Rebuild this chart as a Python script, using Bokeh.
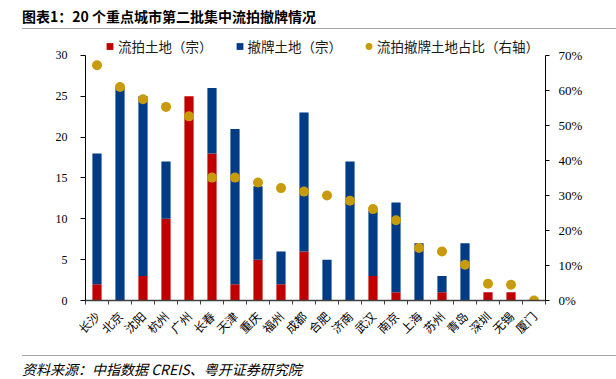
import math
from bokeh.plotting import figure
from bokeh.models import (ColumnDataSource, Range1d, LinearAxis, FixedTicker,
                          NumeralTickFormatter, Legend, LegendItem, Div)
from bokeh.layouts import column
from bokeh.embed import file_html
from bokeh.resources import INLINE

# ---- data ----
cities = ["长沙", "北京", "沈阳", "杭州", "广州", "长春", "天津", "重庆", "福州", "成都",
          "合肥", "济南", "武汉", "南京", "上海", "苏州", "青岛", "深圳", "无锡", "厦门"]
liupai = [2, 0, 3, 10, 25, 18, 2, 5, 2, 6, 0, 0, 3, 1, 0, 1, 0, 1, 1, 0]
chepai = [16, 26, 22, 7, 0, 8, 19, 9, 4, 17, 5, 17, 8, 11, 7, 2, 7, 0, 0, 0]
ratio = [0.672, 0.610, 0.575, 0.553, 0.526, 0.351, 0.351, 0.337, 0.321, 0.311,
         0.300, 0.285, 0.261, 0.229, 0.150, 0.140, 0.102, 0.048, 0.045, 0.0]
left_ticks = [0, 5, 10, 15, 20, 25, 30]
right_ticks = [0.0, 0.1, 0.2, 0.3, 0.4, 0.5, 0.6, 0.7]
legend_labels = ["流拍土地（宗）", "撤牌土地（宗）", "流拍撤牌土地占比（右轴）"]
title_text = "图表1：20 个重点城市第二批集中流拍撤牌情况"
source_text = "资料来源：中指数据 CREIS、粤开证券研究院"

RED = "#C00000"
BLUE = "#003C86"
GOLD = "#C89B0C"
CJK = "Noto Sans CJK SC"
SERIF = "Liberation Serif"

# frame is taller than the axes (room for the legend); axes are bounded
LEFT_MAX, RIGHT_MAX = 30, 0.7
HEAD = 266 / 246  # frame height / axis height

n = len(cities)
xs = [i + 0.5 for i in range(n)]
src = ColumnDataSource(dict(x=xs, liupai=liupai, chepai=chepai, ratio=ratio))

p = figure(width=616, height=315, x_range=Range1d(0, n),
           y_range=Range1d(0, LEFT_MAX * HEAD),
           output_backend="svg", toolbar_location=None,
           min_border_left=85, min_border_right=71, min_border_top=5, min_border_bottom=44)
p.extra_y_ranges = {"pct": Range1d(0, RIGHT_MAX * HEAD)}
p.outline_line_color = None
p.xgrid.grid_line_color = None
p.ygrid.grid_line_color = None

rs = p.vbar_stack(["liupai", "chepai"], x="x", width=0.4, fill_color=[RED, BLUE],
                  line_color=None, source=src)
dots = p.scatter("x", "ratio", source=src, y_range_name="pct", size=10,
                 marker="circle", fill_color=GOLD, line_color=None)

# legend swatches: zero-size square markers sharing the bar colours
sw_red = p.scatter("x", "liupai", source=src, size=0, marker="square",
                   fill_color=RED, line_color=None)
sw_blue = p.scatter("x", "chepai", source=src, size=0, marker="square",
                    fill_color=BLUE, line_color=None)

# left axis
ya = p.yaxis[0]
ya.ticker = FixedTicker(ticks=left_ticks)
ya.bounds = (0, LEFT_MAX)
ya.major_tick_in = 0
ya.major_tick_out = 5
ya.minor_tick_out = 0
ya.minor_tick_in = 0
ya.axis_line_color = "#000000"
ya.major_tick_line_color = "#000000"
ya.major_label_text_font = SERIF
ya.major_label_text_font_size = "12px"
ya.major_label_text_color = "#000000"
ya.major_label_standoff = 13

# right axis
ra = LinearAxis(y_range_name="pct", ticker=FixedTicker(ticks=right_ticks),
                formatter=NumeralTickFormatter(format="0%"), bounds=(0, RIGHT_MAX))
ra.major_tick_in = 0
ra.major_tick_out = 4
ra.minor_tick_out = 0
ra.minor_tick_in = 0
ra.axis_line_color = "#000000"
ra.major_tick_line_color = "#000000"
ra.major_label_text_font = SERIF
ra.major_label_text_font_size = "13px"
ra.major_label_text_color = "#000000"
ra.major_label_standoff = 9
p.add_layout(ra, "right")

# x axis
xa = p.xaxis[0]
xa.ticker = FixedTicker(ticks=xs, minor_ticks=list(range(n + 1)))
xa.major_label_overrides = {x: c for x, c in zip(xs, cities)}
xa.major_tick_in = 0
xa.major_tick_out = 0
xa.minor_tick_in = 0
xa.minor_tick_out = 4
xa.minor_tick_line_color = "#404040"
xa.axis_line_color = "#404040"
xa.axis_line_width = 1.5
xa.major_label_orientation = math.pi / 4
xa.major_label_text_font = CJK
xa.major_label_text_font_size = "12px"
xa.major_label_text_color = "#000000"
xa.major_label_standoff = 9

leg = Legend(items=[LegendItem(label=legend_labels[0], renderers=[sw_red]),
                    LegendItem(label=legend_labels[1], renderers=[sw_blue]),
                    LegendItem(label=legend_labels[2], renderers=[dots])],
             location=(16, 244), orientation="horizontal", padding=0, margin=0,
             border_line_color=None, background_fill_alpha=0,
             glyph_width=17, glyph_height=18, label_standoff=0, spacing=18,
             label_text_font=CJK, label_text_font_size="13.5px",
             label_text_color="#1a1a1a", label_height=18)
p.add_layout(leg, "center")

title_html = (
    '<div style="position:relative;width:616px;height:30px;">'
    '<div style="position:absolute;left:22px;top:8px;font-family:\'Noto Sans CJK SC\';'
    'font-weight:bold;font-size:14px;line-height:16px;color:#000;white-space:nowrap;">'
    + title_text + '</div>'
    '<div style="position:absolute;left:22px;top:28px;width:594px;height:1px;background:#A6A6A6;"></div>'
    '</div>')
foot_html = (
    '<div style="position:relative;width:616px;height:33px;">'
    '<div style="position:absolute;left:22px;top:10px;width:594px;height:1px;background:#A6A6A6;"></div>'
    '<div style="position:absolute;left:22px;top:16px;font-family:\'Noto Sans CJK SC\';'
    'font-style:italic;font-size:14px;line-height:16px;color:#000;white-space:nowrap;">'
    + source_text + '</div>'
    '</div>')
title_div = Div(text=title_html, width=616, height=30, margin=(0, 0, 0, 0))
foot_div = Div(text=foot_html, width=616, height=33, margin=(0, 0, 0, 0))

layout = column(title_div, p, foot_div, spacing=0, margin=(0, 0, 0, 0))
open("out.html", "w").write(file_html(layout, INLINE))
